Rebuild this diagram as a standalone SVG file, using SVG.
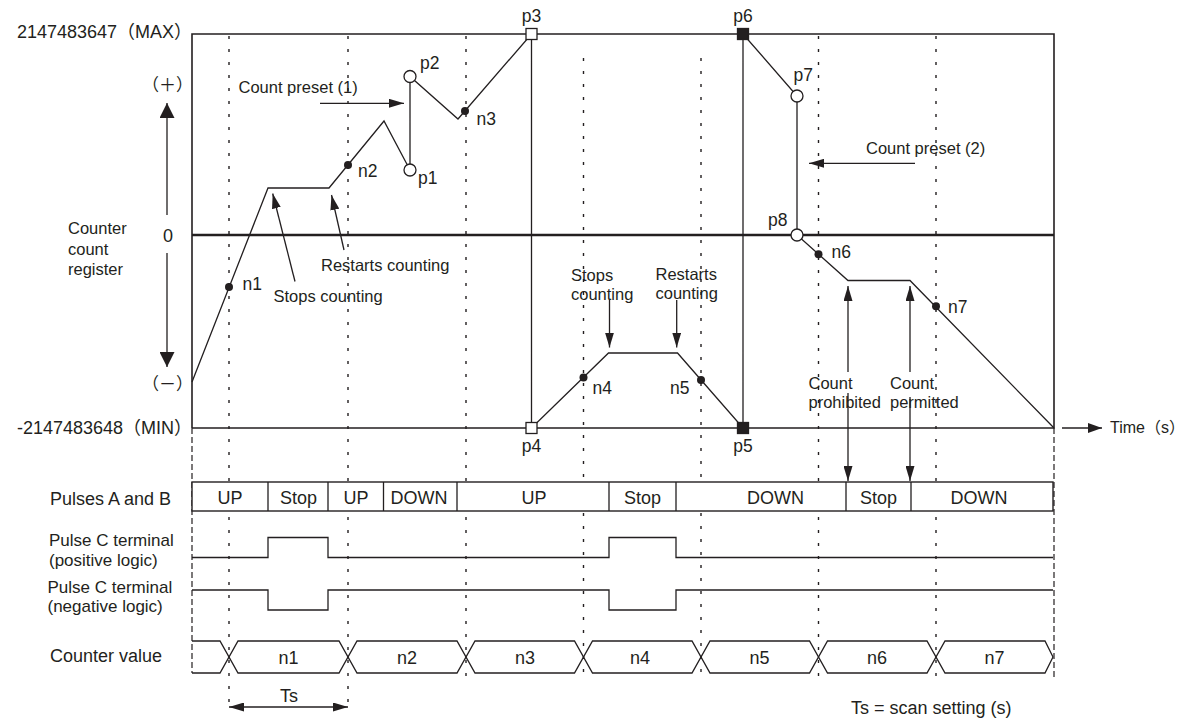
<svg xmlns="http://www.w3.org/2000/svg" width="1187" height="718" viewBox="0 0 1187 718">
<style>
text{font-family:"Liberation Sans","Noto Sans CJK JP",Arial,sans-serif;font-size:16.5px;fill:#231f20}
.big{font-size:18px}
.mid{font-size:17px}
.pl{font-size:17.5px}
.c{text-anchor:middle}
.e{text-anchor:end}
.ln{fill:none;stroke:#231f20;stroke-width:1.3}
.frame{fill:none;stroke:#231f20;stroke-width:1.6}
.zero{fill:none;stroke:#231f20;stroke-width:2.4}
.dot{fill:none;stroke:#231f20;stroke-width:1.4;stroke-dasharray:3 10}
.dash{fill:none;stroke:#231f20;stroke-width:1.2;stroke-dasharray:6 3}
.arw{fill:none;stroke:#231f20;stroke-width:1.3;marker-end:url(#ah)}
.open{fill:#fff;stroke:#231f20;stroke-width:1.3}
.solid{fill:#231f20;stroke:#231f20;stroke-width:1.3}
.cell{fill:#fff;stroke:#231f20;stroke-width:1.4}
</style>
<defs>
<marker id="ah" markerUnits="userSpaceOnUse" viewBox="0 0 15 9" markerWidth="15" markerHeight="9" refX="15" refY="4.5" orient="auto-start-reverse"><path d="M0,0 L15,4.5 L0,9 z" fill="#231f20"/></marker>
<marker id="ahL" markerUnits="userSpaceOnUse" viewBox="0 0 15 15" markerWidth="15" markerHeight="15" refX="15" refY="7.5" orient="auto"><path d="M0,0 L15,7.5 L0,15 z" fill="#231f20"/></marker>
<marker id="ahM" markerUnits="userSpaceOnUse" viewBox="0 0 14 10" markerWidth="14" markerHeight="10" refX="14" refY="5" orient="auto"><path d="M0,0 L14,5 L0,10 z" fill="#231f20"/></marker>
</defs>

<!-- scan-interval grid -->
<g id="grid">
<path class="dot" d="M229,36 V706 M348,36 V706 M466,36 V677 M583.5,58 V677 M701,58 V677 M818.5,36 V677 M936,36 V677"/>
<path class="dash" d="M192,428 V673 M1054,428 V677"/>
</g>

<!-- count register frame -->
<g id="frame">
<path class="frame" d="M192,428 V34 H1054 V428 H192"/>
<path class="zero" d="M192,235 H1054"/>
<path class="ln" d="M1062,428 H1102" marker-end="url(#ahM)"/>
<text x="1110" y="433" style="font-size:16px">Time（s）</text>
<text x="192" y="37.5" class="big e">2147483647（MAX）</text>
<text x="192" y="434" class="big e">-2147483648（MIN）</text>
<text x="193" y="91" class="e mid">（＋）</text>
<text x="193" y="390" class="e mid">（－）</text>
<text x="168" y="241.5" class="big c">0</text>
<path class="ln" d="M167,215 V103" marker-end="url(#ahL)"/>
<path class="ln" d="M167,253 V367" marker-end="url(#ahL)"/>
<text x="68" y="234">Counter</text>
<text x="68" y="254.5">count</text>
<text x="68" y="275">register</text>
</g>

<!-- count value trace and annotation arrows -->
<g id="connectors">
<polyline class="ln" points="192,382 268,188 329,188 384,121 410,170 410,76.5 458,119 531.5,34 531.5,428 608.5,353 677.5,353 743,428 743,34 797,96 797,235 848,280.5 910,280.5 1054,428"/>
<path class="arw" d="M320,103.3 H404"/>
<path class="arw" d="M915,163.3 H809"/>
<path class="arw" d="M295,281.5 L272.7,193.5"/>
<path class="arw" d="M344,250 L331.5,195"/>
<path class="arw" d="M609.5,300 V347.5"/>
<path class="arw" d="M676.7,300 V347.5"/>
<path class="ln" d="M848,372 V286" marker-end="url(#ah)"/>
<path class="arw" d="M848,393 V481"/>
<path class="ln" d="M910,372 V286" marker-end="url(#ah)"/>
<path class="arw" d="M910,397 V481"/>
<path class="ln" d="M229,707 H348" marker-start="url(#ah)" marker-end="url(#ah)"/>
</g>

<!-- annotation texts -->
<g id="notes">
<text x="238.5" y="92.5">Count preset (1)</text>
<text x="866" y="154">Count preset (2)</text>
<text x="273.5" y="302">Stops counting</text>
<text x="321" y="271">Restarts counting</text>
<text x="571" y="281">Stops</text>
<text x="571" y="300">counting</text>
<text x="655.5" y="279.5">Restarts</text>
<text x="655.5" y="299">counting</text>
<text x="808.5" y="389">Count</text>
<text x="808.5" y="407.5">prohibited</text>
<text x="890" y="389">Count</text>
<text x="890" y="407.5">permitted</text>
</g>

<!-- preset points -->
<g id="p1"><circle class="open" cx="410" cy="170" r="6"/><text class="pl" x="418" y="184">p1</text></g>
<g id="p2"><circle class="open" cx="410" cy="76.5" r="6"/><text class="pl" x="420" y="69">p2</text></g>
<g id="p3"><rect class="open" x="526" y="28.5" width="11" height="11"/><text class="pl c" x="531.5" y="22">p3</text></g>
<g id="p4"><rect class="open" x="526" y="422.5" width="11" height="11"/><text class="pl c" x="531.5" y="452">p4</text></g>
<g id="p5"><rect class="solid" x="737.5" y="422.5" width="11" height="11"/><text class="pl c" x="743" y="452">p5</text></g>
<g id="p6"><rect class="solid" x="737.5" y="28.5" width="11" height="11"/><text class="pl c" x="743" y="22">p6</text></g>
<g id="p7"><circle class="open" cx="797" cy="96" r="6"/><text class="pl" x="793.5" y="81">p7</text></g>
<g id="p8"><circle class="open" cx="797" cy="235" r="6"/><text class="pl" x="768" y="226">p8</text></g>

<!-- sampled counter values -->
<g id="n1"><circle cx="229" cy="287" r="4" fill="#231f20"/><text class="pl" x="242.5" y="289.5">n1</text></g>
<g id="n2"><circle cx="348" cy="165" r="4" fill="#231f20"/><text class="pl" x="358" y="177">n2</text></g>
<g id="n3"><circle cx="465" cy="111" r="4" fill="#231f20"/><text class="pl" x="476.5" y="124.5">n3</text></g>
<g id="n4"><circle cx="583.5" cy="377.5" r="4" fill="#231f20"/><text class="pl" x="592.5" y="393.5">n4</text></g>
<g id="n5"><circle cx="701" cy="380" r="4" fill="#231f20"/><text class="pl" x="670" y="393.5">n5</text></g>
<g id="n6"><circle cx="818.5" cy="254.2" r="4" fill="#231f20"/><text class="pl" x="831.5" y="258">n6</text></g>
<g id="n7"><circle cx="936" cy="306.3" r="4" fill="#231f20"/><text class="pl" x="948" y="312.5">n7</text></g>

<!-- pulse direction row -->
<g id="pulses">
<rect class="cell" x="192" y="482" width="861" height="29"/>
<path class="ln" d="M268,482 V511 M328,482 V511 M383.5,482 V511 M457,482 V511 M609,482 V511 M676,482 V511 M846,482 V511 M911,482 V511"/>
<text class="big" x="50" y="504.5">Pulses A and B</text>
<text class="big c" x="230" y="503.5">UP</text>
<text class="big c" x="298.5" y="503.5">Stop</text>
<text class="big c" x="356" y="503.5">UP</text>
<text class="big c" x="419" y="503.5">DOWN</text>
<text class="big c" x="534" y="503.5">UP</text>
<text class="big c" x="642.5" y="503.5">Stop</text>
<text class="big c" x="775.5" y="503.5">DOWN</text>
<text class="big c" x="878.5" y="503.5">Stop</text>
<text class="big c" x="979" y="503.5">DOWN</text>
</g>

<!-- pulse C terminal, positive logic -->
<g id="pulseCpos">
<path class="ln" d="M192,557.5 H268 V537.5 H328 V557.5 H609 V537.5 H676 V557.5 H1053"/>
<text class="mid" x="49" y="546">Pulse C terminal</text>
<text class="mid" x="49" y="565.5">(positive logic)</text>
</g>

<!-- pulse C terminal, negative logic -->
<g id="pulseCneg">
<path class="ln" d="M192,590 H268 V610 H328 V590 H609 V610 H676 V590 H1053"/>
<text class="mid" x="47.5" y="592.5">Pulse C terminal</text>
<text class="mid" x="47.5" y="612">(negative logic)</text>
</g>

<!-- counter value bus -->
<g id="counterValue">
<path class="ln" d="M192,641 H220 L238,673 H339 L357,641 H457 L475,673 H574.5 L592.5,641 H692 L710,673 H809.5 L827.5,641 H927 L945,673 H1045 L1053,657"/>
<path class="ln" d="M192,673 H220 L238,641 H339 L357,673 H457 L475,641 H574.5 L592.5,673 H692 L710,641 H809.5 L827.5,673 H927 L945,641 H1045 L1053,657"/>
<text class="big" x="50" y="661.5">Counter value</text>
<text class="big c" x="288.5" y="663.5">n1</text>
<text class="big c" x="407" y="663.5">n2</text>
<text class="big c" x="525" y="663.5">n3</text>
<text class="big c" x="640" y="663.5">n4</text>
<text class="big c" x="759.5" y="663.5">n5</text>
<text class="big c" x="877" y="663.5">n6</text>
<text class="big c" x="994.5" y="663.5">n7</text>
</g>

<!-- scan period -->
<g id="scan">
<text class="big c" x="289" y="701.5">Ts</text>
<text class="big" x="851" y="714">Ts = scan setting (s)</text>
</g>
</svg>
